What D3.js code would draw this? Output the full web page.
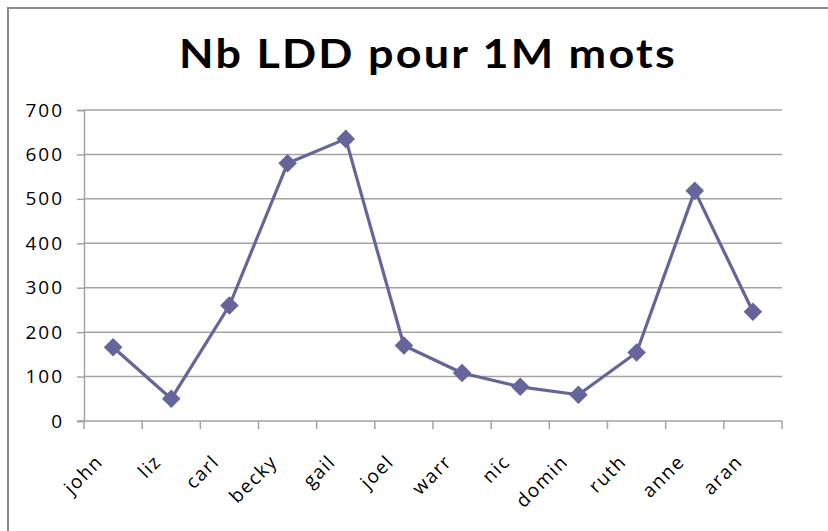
<!DOCTYPE html>
<html>
<head>
<meta charset="utf-8">
<script src="https://cdn.jsdelivr.net/npm/d3@7"></script>
<style>
  html, body { margin: 0; padding: 0; background: #fff; }
  svg { display: block; }
</style>
</head>
<body>
<svg id="chart" width="828" height="531"></svg>
<script>
// Number of LDD per million words, by speaker
const categories = ["john", "liz", "carl", "becky", "gail", "joel", "warr", "nic", "domin", "ruth", "anne", "aran"];
const values = [166, 50, 260, 580, 635, 170, 108, 77, 59, 154, 518, 246];
const yTicks = [0, 100, 200, 300, 400, 500, 600, 700];
const title = "Nb LDD pour 1M mots";

const svg = d3.select("#chart");
const W = 828, H = 531;
const plot = { left: 84, right: 782, top: 110, bottom: 421 };
const lineColor = "#65659c";
const gridColor = "#a3a3a3";
const font = "'Open Sans', 'DejaVu Sans', sans-serif";

// Outer chart frame
svg.append("rect")
  .attr("x", 8).attr("y", 8)
  .attr("width", W).attr("height", H)
  .attr("fill", "#fff")
  .attr("stroke", "#8c8c8c")
  .attr("stroke-width", 2);

// Title
svg.append("text")
  .attr("x", 428).attr("y", 68)
  .attr("text-anchor", "middle")
  .attr("font-family", "Lato, 'Open Sans', sans-serif")
  .attr("font-weight", "bold")
  .attr("font-size", 40)
  .attr("letter-spacing", 2)
  .attr("textLength", 498)
  .attr("lengthAdjust", "spacingAndGlyphs")
  .attr("fill", "#000")
  .text(title);

const x = d3.scaleBand().domain(categories).range([plot.left, plot.right]).padding(0);
const y = d3.scaleLinear().domain([0, 700]).range([plot.bottom, plot.top]);

// Horizontal gridlines
svg.append("g")
  .selectAll("line")
  .data(yTicks.filter(t => t > 0))
  .join("line")
  .attr("x1", plot.left).attr("x2", plot.right)
  .attr("y1", d => y(d)).attr("y2", d => y(d))
  .attr("stroke", gridColor)
  .attr("stroke-width", 1.5);

// Y axis
const yAxis = svg.append("g")
  .attr("transform", `translate(${plot.left},0)`)
  .call(d3.axisLeft(y).tickValues(yTicks).tickSize(7).tickPadding(13).tickFormat(d3.format("d")));
yAxis.select(".domain").attr("stroke", gridColor).attr("stroke-width", 1.5);
yAxis.selectAll(".tick line").attr("stroke", gridColor).attr("stroke-width", 1.5);
yAxis.selectAll(".tick text")
  .attr("font-family", font)
  .attr("font-size", 19)
  .attr("letter-spacing", 2)
  .attr("fill", "#000");

// X axis with ticks at category boundaries
const xAxisG = svg.append("g").attr("transform", `translate(0,${plot.bottom})`);
xAxisG.append("line")
  .attr("x1", plot.left - 7).attr("x2", plot.right)
  .attr("y1", 0).attr("y2", 0)
  .attr("stroke", gridColor).attr("stroke-width", 1.5);
const boundaries = categories.map(c => x(c)).concat([plot.right]);
xAxisG.selectAll("line.tick")
  .data(boundaries)
  .join("line")
  .attr("class", "tick")
  .attr("x1", d => d).attr("x2", d => d)
  .attr("y1", 0).attr("y2", 8)
  .attr("stroke", gridColor).attr("stroke-width", 1.5);

// Rotated category labels
xAxisG.selectAll("text")
  .data(categories)
  .join("text")
  .attr("transform", d => `translate(${x(d) + x.bandwidth() / 2 - 9},${42}) rotate(-45)`)
  .attr("text-anchor", "end")
  .attr("font-family", font)
  .attr("font-size", 19)
  .attr("letter-spacing", 1.5)
  .attr("fill", "#000")
  .text(d => d);

// Series line
const cx = d => x(d) + x.bandwidth() / 2;
svg.append("path")
  .datum(categories.map((c, i) => [cx(c), y(values[i])]))
  .attr("d", d3.line())
  .attr("fill", "none")
  .attr("stroke", lineColor)
  .attr("stroke-width", 3.2)
  .attr("stroke-linejoin", "round");

// Diamond markers
svg.append("g")
  .selectAll("path")
  .data(categories)
  .join("path")
  .attr("transform", (d, i) => `translate(${cx(d)},${y(values[i])})`)
  .attr("d", d3.symbol().type(d3.symbolDiamond2).size(220))
  .attr("fill", lineColor);
</script>
</body>
</html>
